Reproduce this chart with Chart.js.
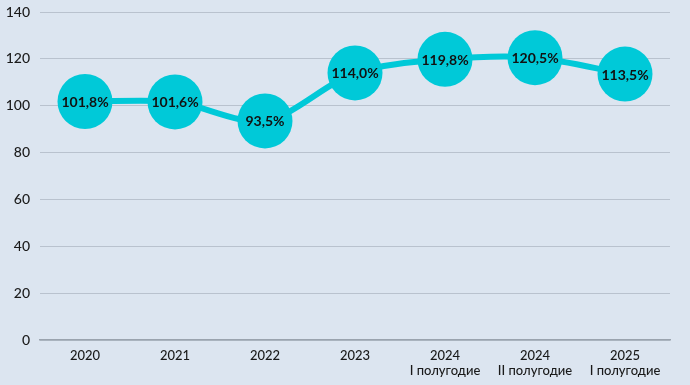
<!DOCTYPE html>
<html>
<head>
<meta charset="utf-8">
<script src="https://cdn.jsdelivr.net/npm/chart.js@4"></script>
<style>
  html, body { margin: 0; padding: 0; background: #dce5f0; }
  #wrap { width: 690px; height: 385px; }
</style>
</head>
<body>
<div id="wrap"><canvas id="chart"></canvas></div>
<script>
// categories and values
const periods = [['2020'], ['2021'], ['2022'], ['2023'], ['2024', 'I полугодие'], ['2024', 'II полугодие'], ['2025', 'I полугодие']];
const indexValues = [101.8, 101.6, 93.5, 114.0, 119.8, 120.5, 113.5];
const yTicks = [0, 20, 40, 60, 80, 100, 120, 140];

const turquoise = '#00c9d8';

// draw value text inside each circle
const valueLabels = {
    id: 'valueLabels',
    afterDatasetsDraw(chart) {
        const ctx = chart.ctx;
        const meta = chart.getDatasetMeta(0);
        ctx.save();
        ctx.font = 'bold 14px Lato, "DejaVu Sans", sans-serif';
        ctx.fillStyle = '#111';
        ctx.textAlign = 'center';
        ctx.textBaseline = 'middle';
        meta.data.forEach(function (pt, i) {
            ctx.fillText(indexValues[i].toFixed(1).replace('.', ',') + '%', pt.x, pt.y + 1);
        });
        ctx.restore();
    }
};

const data = {
    labels: periods,
    datasets: [{
            data: indexValues,
            borderColor: turquoise,
            backgroundColor: turquoise,
            borderWidth: 6,
            tension: 0.3,
            pointRadius: 27.5,
            pointHoverRadius: 27.5,
            pointBorderWidth: 0,
            clip: false
        }]
};

const config = {
    type: 'line',
    data: data,
    plugins: [valueLabels],
    options: {
        responsive: true,
        maintainAspectRatio: false,
        animation: false,
        layout: { autoPadding: false, padding: { top: 12, right: 20, left: 0, bottom: 0 } },
        plugins: {
            legend: { display: false },
            tooltip: { enabled: false }
        },
        scales: {
            x: {
                offset: true,
                grid: { display: false },
                border: { display: true, color: '#9aa3ae', width: 1.5 },
                afterFit(axis) { axis.height = 45; },
                ticks: {
                    color: '#1a1a1a',
                    font: { family: 'Lato, "DejaVu Sans", sans-serif', size: 13, weight: '500', lineHeight: 1.15 },
                    padding: 0,
                    maxRotation: 0,
                    autoSkip: false
                }
            },
            y: {
                min: 0,
                max: 140,
                afterBuildTicks(axis) {
                    axis.ticks = yTicks.map(v => ({ value: v }));
                },
                afterFit(axis) {
                    axis.width = 40;
                    axis.paddingTop = 0;
                    axis.paddingBottom = 0;
                },
                border: { display: false },
                grid: {
                    color: '#b9c2ce',
                    lineWidth: 1,
                    drawTicks: false
                },
                ticks: {
                    color: '#1a1a1a',
                    font: { family: 'Lato, "DejaVu Sans", sans-serif', size: 14, weight: '500' },
                    padding: 10
                }
            }
        }
    }
};

let ctx = document.getElementById('chart').getContext('2d');
new Chart(ctx, config);
</script>
</body>
</html>
